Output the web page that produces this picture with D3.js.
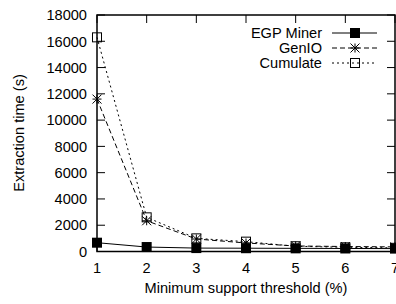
<!DOCTYPE html>
<html>
<head>
<meta charset="utf-8">
<script src="https://cdn.jsdelivr.net/npm/d3@7"></script>
<style>
  body { margin: 0; background: #fff; }
  svg text { font-family: "Liberation Sans", Arial, sans-serif; fill: #000; }
</style>
</head>
<body>
<svg id="chart" width="396" height="304"></svg>
<script>
// data
const thresholds = [1, 2, 3, 4, 5, 6, 7];
const egpMiner = [670, 340, 260, 250, 240, 230, 220];
const genIO = [11600, 2340, 950, 650, 420, 380, 350];
const cumulate = [16300, 2600, 1000, 750, 400, 320, 280];
const seriesNames = ["EGP Miner", "GenIO", "Cumulate"];
const yTicks = [0, 2000, 4000, 6000, 8000, 10000, 12000, 14000, 16000, 18000];

const svg = d3.select('#chart');
const plotLeft = 97, plotRight = 395, plotTop = 15, plotBottom = 251.5;
const FS = 14.6;

const x = d3.scaleLinear([1, 7], [plotLeft, plotRight]);
const y = d3.scaleLinear([0, 18000], [plotBottom, plotTop]);
const TICK = 8;

// ticks (inside, mirrored)
const tickG = svg.append('g').attr('stroke', '#000').attr('stroke-width', 1);
yTicks.forEach(t => {
    tickG.append('line').attr('x1', plotLeft).attr('x2', plotLeft + TICK).attr('y1', y(t)).attr('y2', y(t));
    tickG.append('line').attr('x1', plotRight).attr('x2', plotRight - TICK).attr('y1', y(t)).attr('y2', y(t));
});
thresholds.forEach(t => {
    tickG.append('line').attr('x1', x(t)).attr('x2', x(t)).attr('y1', plotBottom).attr('y2', plotBottom - TICK);
    tickG.append('line').attr('x1', x(t)).attr('x2', x(t)).attr('y1', plotTop).attr('y2', plotTop + TICK);
});

// tick labels
svg.append('g').selectAll('text').data(yTicks).enter().append('text')
    .attr('x', plotLeft - 10).attr('y', d => y(d)).attr('dy', '0.36em')
    .attr('text-anchor', 'end').attr('font-size', FS)
    .text(d => d);
svg.append('g').selectAll('text').data(thresholds).enter().append('text')
    .attr('x', d => x(d)).attr('y', 273)
    .attr('text-anchor', 'middle').attr('font-size', FS)
    .text(d => d);

// axis titles
svg.append('text').attr('x', 246).attr('y', 292.5).attr('text-anchor', 'middle')
    .attr('font-size', FS).text('Minimum support threshold (%)');
svg.append('text').attr('transform', 'translate(24,133) rotate(-90)')
    .attr('text-anchor', 'middle').attr('font-size', FS).text('Extraction time (s)');

// series
const line = d3.line().x((d, i) => x(thresholds[i])).y(d => y(d));
const styles = [
    { data: egpMiner, dash: null, marker: 'filled' },
    { data: genIO, dash: '5,3', marker: 'star' },
    { data: cumulate, dash: '2,3', marker: 'open' }
];

function drawMarker(g, kind, cx, cy) {
    if (kind === 'filled') {
        g.append('rect').attr('x', cx - 5).attr('y', cy - 5).attr('width', 10).attr('height', 10).attr('fill', '#000');
    } else if (kind === 'open') {
        g.append('rect').attr('x', cx - 4.5).attr('y', cy - 4.5).attr('width', 9).attr('height', 9)
            .attr('fill', 'none').attr('stroke', '#000').attr('stroke-width', 1);
    } else {
        const r = 4.5;
        const p = `M${cx - r},${cy}L${cx + r},${cy}M${cx},${cy - r}L${cx},${cy + r}` +
            `M${cx - r},${cy - r}L${cx + r},${cy + r}M${cx - r},${cy + r}L${cx + r},${cy - r}`;
        g.append('path').attr('d', p).attr('stroke', '#000').attr('stroke-width', 1).attr('fill', 'none');
    }
}

const plot = svg.append('g');
styles.forEach(s => {
    plot.append('path').attr('d', line(s.data)).attr('fill', 'none')
        .attr('stroke', '#000').attr('stroke-width', 1)
        .attr('stroke-dasharray', s.dash);
});
styles.slice().reverse().forEach(s => {
    s.data.forEach((v, i) => drawMarker(plot, s.marker, x(thresholds[i]), y(v)));
});

// legend
const legendY = [33, 48, 63];
styles.forEach((s, i) => {
    svg.append('text').attr('x', 322).attr('y', legendY[i]).attr('dy', '0.36em')
        .attr('text-anchor', 'end').attr('font-size', FS).text(seriesNames[i]);
    svg.append('line').attr('x1', 332).attr('x2', 377).attr('y1', legendY[i]).attr('y2', legendY[i])
        .attr('stroke', '#000').attr('stroke-width', 1).attr('stroke-dasharray', s.dash);
    drawMarker(svg, s.marker, 355, legendY[i]);
});

// frame
svg.append('rect').attr('x', plotLeft).attr('y', plotTop).attr('width', plotRight - plotLeft).attr('height', plotBottom - plotTop)
    .attr('fill', 'none').attr('stroke', '#000').attr('stroke-width', 1.5);
</script>
</body>
</html>
